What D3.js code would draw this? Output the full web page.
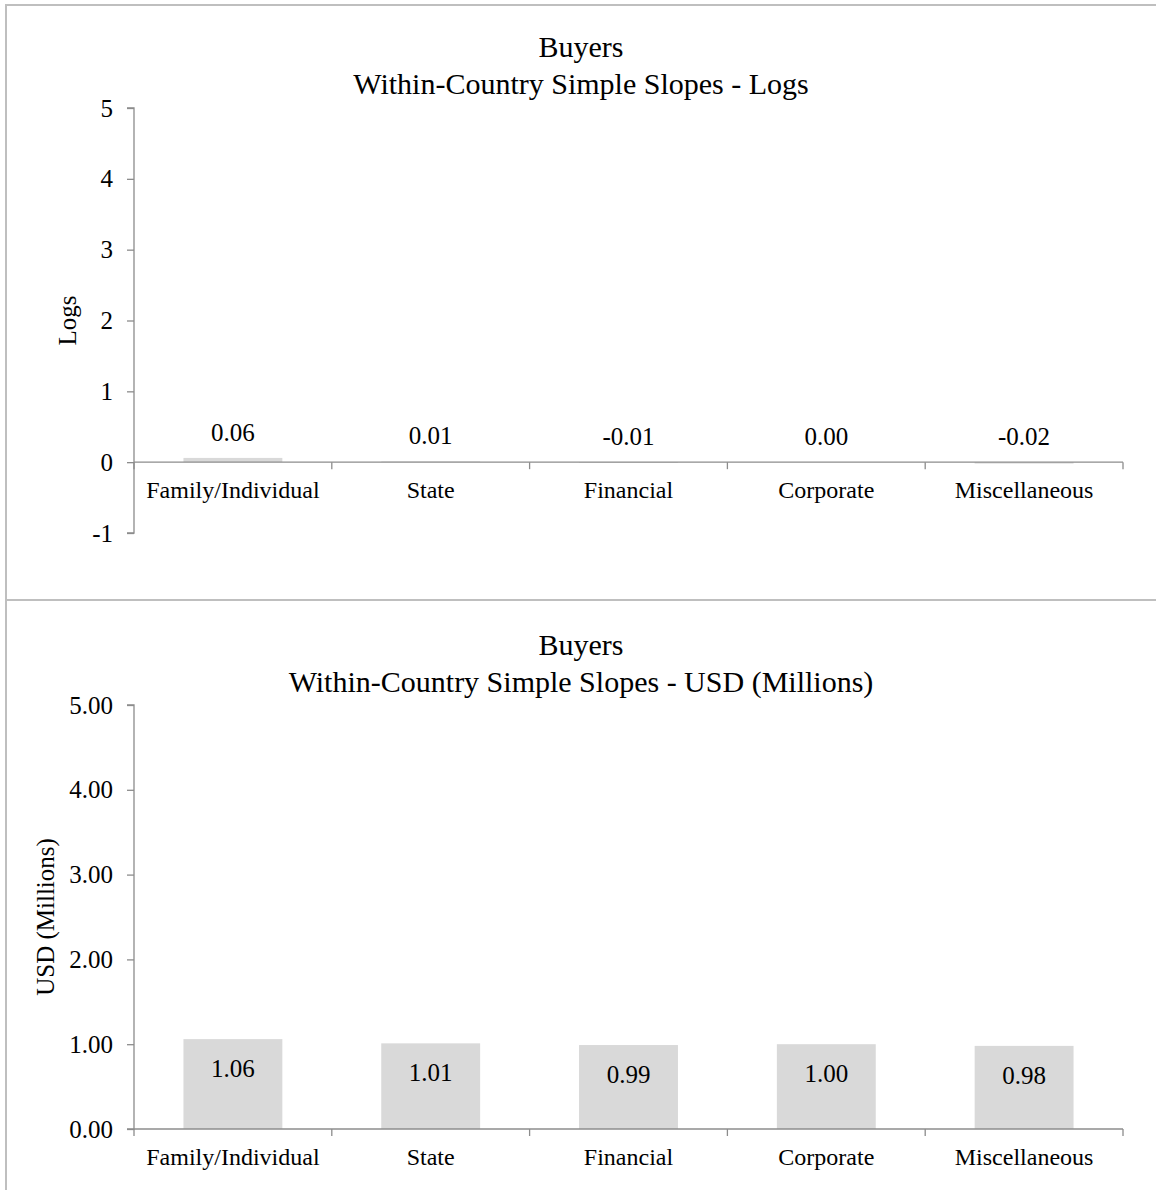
<!DOCTYPE html>
<html>
<head>
<meta charset="utf-8">
<script src="https://cdn.jsdelivr.net/npm/d3@7/dist/d3.min.js"></script>
<style>
  html, body { margin: 0; padding: 0; background: #ffffff; }
  svg text { font-family: "Liberation Serif", "Times New Roman", serif; fill: #000; }
</style>
</head>
<body>
<svg id="chart" width="1156" height="1190"></svg>
<script>
// Buyer categories shared by both panels
const categories = ["Family/Individual", "State", "Financial", "Corporate", "Miscellaneous"];

// Simple slopes in log units
const logValues = [0.06, 0.01, -0.01, 0.00, -0.02];
const logTicks = [-1, 0, 1, 2, 3, 4, 5];

// Same slopes converted to USD (millions)
const usdValues = [1.06, 1.01, 0.99, 1.00, 0.98];
const usdTicks = [0, 1, 2, 3, 4, 5];

// Plain hyphen for negative numbers
const locale = d3.formatLocale({ decimal: ".", thousands: ",", grouping: [3], currency: ["$", ""], minus: "-" });
const fmtInt = locale.format("d");
const fmt2 = locale.format(".2f");

const svg = d3.select("#chart");
const axisColor = "#8c8c8c";
const frameColor = "#bfbfbf";
const barColor = "#d9d9d9";

// Panel frames
svg.append("line").attr("x1", 6).attr("x2", 1156).attr("y1", 5).attr("y2", 5)
  .attr("stroke", frameColor).attr("stroke-width", 2);
svg.append("line").attr("x1", 6).attr("x2", 6).attr("y1", 4).attr("y2", 1190)
  .attr("stroke", frameColor).attr("stroke-width", 2);
svg.append("line").attr("x1", 6).attr("x2", 1156).attr("y1", 600).attr("y2", 600)
  .attr("stroke", frameColor).attr("stroke-width", 2);

const x = d3.scaleBand().domain(categories).range([134, 1123]).paddingInner(0.5).paddingOuter(0.25);

function panel(opts) {
  const g = svg.append("g");
  const y = d3.scaleLinear().domain(opts.domain).range(opts.range);

  // Title (two lines)
  opts.title.forEach((t, i) => {
    g.append("text").attr("x", 581).attr("y", opts.titleY[i])
      .attr("text-anchor", "middle").style("font-size", "30px").text(t);
  });

  // Y axis title
  g.append("text")
    .attr("transform", `translate(${opts.yTitleX},${(opts.range[0] + opts.range[1]) / 2}) rotate(-90)`)
    .attr("text-anchor", "middle").style("font-size", "25px").text(opts.yTitle);

  // Bars
  g.selectAll("rect.bar").data(opts.values).join("rect")
    .attr("class", "bar")
    .attr("x", (d, i) => x(categories[i]))
    .attr("width", x.bandwidth())
    .attr("y", d => y(Math.max(0, d)))
    .attr("height", d => Math.abs(y(d) - y(0)))
    .attr("fill", barColor);

  // Y axis
  const yAxis = d3.axisLeft(y).tickValues(opts.ticks).tickFormat(opts.fmt)
    .tickSize(7).tickPadding(14);
  const ya = g.append("g").attr("transform", "translate(134,0)").call(yAxis);
  ya.select(".domain").attr("stroke", axisColor).attr("stroke-width", 1.3)
    .attr("d", `M-7,${opts.range[1]}H0V${opts.range[0]}H-7`);
  ya.selectAll(".tick line").attr("stroke", axisColor).attr("stroke-width", 1.3);
  ya.selectAll(".tick text").style("font-size", "25px").attr("fill", "#000");

  // X axis along zero, ticks at category boundaries
  const y0 = y(0);
  g.append("line").attr("x1", 134).attr("x2", 1123).attr("y1", y0).attr("y2", y0)
    .attr("stroke", axisColor).attr("stroke-width", 1.3);
  const bounds = d3.range(categories.length + 1).map(i => x.range()[0] + i * x.step());
  g.selectAll("line.xt").data(bounds).join("line").attr("class", "xt")
    .attr("x1", d => d).attr("x2", d => d).attr("y1", y0).attr("y2", y0 + 7)
    .attr("stroke", axisColor).attr("stroke-width", 1.3);
  g.selectAll("text.cat").data(categories).join("text").attr("class", "cat")
    .attr("x", d => x(d) + x.bandwidth() / 2).attr("y", y0 + 36)
    .attr("text-anchor", "middle").style("font-size", "24px").text(d => d);

  // Value labels
  g.selectAll("text.val").data(opts.values).join("text").attr("class", "val")
    .attr("x", (d, i) => x(categories[i]) + x.bandwidth() / 2)
    .attr("y", d => opts.labelY(y, d))
    .attr("text-anchor", "middle").style("font-size", "25px")
    .text(d => fmt2(d));
}

panel({
  title: ["Buyers", "Within-Country Simple Slopes - Logs"],
  titleY: [57, 94],
  yTitle: "Logs", yTitleX: 76,
  domain: [-1, 5], range: [533, 108],
  ticks: logTicks, fmt: fmtInt,
  values: logValues,
  labelY: (y, d) => y(Math.max(0, d)) - 17
});

panel({
  title: ["Buyers", "Within-Country Simple Slopes - USD (Millions)"],
  titleY: [655, 692],
  yTitle: "USD (Millions)", yTitleX: 54,
  domain: [0, 5], range: [1129, 705],
  ticks: usdTicks, fmt: fmt2,
  values: usdValues,
  labelY: (y, d) => y(d) + 38
});
</script>
</body>
</html>
